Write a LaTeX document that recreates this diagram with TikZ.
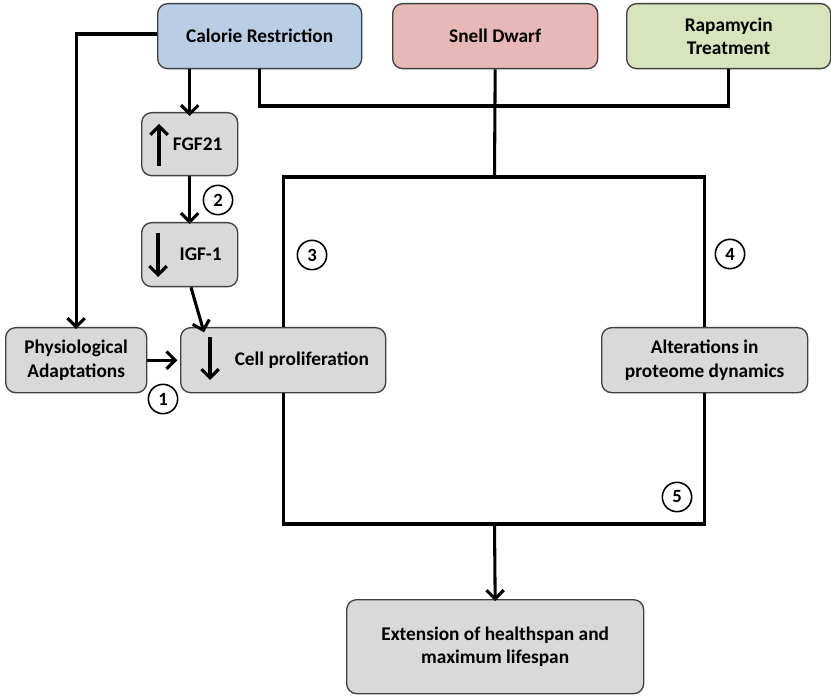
\documentclass[tikz,border=0pt]{standalone}
\usepackage{fontspec}
\setmainfont{Carlito}
\usetikzlibrary{arrows.meta}

\definecolor{crblue}{RGB}{185,205,229}
\definecolor{snellred}{RGB}{230,185,184}
\definecolor{rapagreen}{RGB}{215,228,189}
\definecolor{boxgray}{RGB}{217,217,217}
\definecolor{boxline}{RGB}{64,64,64}

\tikzset{
    box/.style={draw=boxline, line width=1pt, rounded corners=7.5pt, fill=boxgray,
        anchor=north west, inner sep=0pt, align=center,
        font=\fontsize{14.5}{17.5}\selectfont\bfseries},
    conn/.style={line width=2.3pt, black},
    tip/.style={conn, -{Straight Barb[length=6.5pt,width=13pt]}},
    num/.style={draw, circle, line width=1.2pt, minimum size=22pt, inner sep=0pt,
        font=\fontsize{14}{14}\selectfont\bfseries},
}

\begin{document}
\begin{tikzpicture}[x=0.75pt,y=0.75pt,yscale=-1,xscale=1]
    \useasboundingbox (0,0) rectangle (831,698);

    % Top row
    \node [box, fill=crblue, minimum width=153pt, minimum height=48.75pt] (calorie) at (157,3) {Calorie Restriction};
    \node [box, fill=snellred, minimum width=153.75pt, minimum height=48.75pt] (snell) at (392,3) {Snell Dwarf};
    \node [box, fill=rapagreen, minimum width=153pt, minimum height=48.75pt] (rapa) at (626,3) {Rapamycin\\Treatment};

    % FGF21 and IGF-1
    \node [box, minimum width=72pt, minimum height=47.25pt] (fgf) at (141,112) {\hspace{12pt}FGF21};
    \node [box, minimum width=72pt, minimum height=48pt] (igf) at (141,222) {\hspace{16.5pt}IGF-1};

    % Middle row
    \node [box, minimum width=105.75pt, minimum height=48.75pt] (phys) at (5,327) {Physiological\\Adaptations};
    \node [box, minimum width=153.75pt, minimum height=48.75pt] (cell) at (180,327) {\hspace{28pt}Cell proliferation};
    \node [box, minimum width=154.5pt, minimum height=48.75pt] (alter) at (601,327) {Alterations in\\proteome dynamics};

    % Bottom
    \node [box, minimum width=222.75pt, minimum height=70.5pt] (ext) at (346,599) {Extension of healthspan and\\maximum lifespan};

    % Junctions
    \coordinate (jmid) at (494.5,106);
    \coordinate (jtop) at (494.5,177);
    \coordinate (jbot) at (494.5,524);

    % Arrows inside boxes
    \draw [tip] (159,166) -- (159,124);
    \draw [tip] (158,233) -- (158,277);
    \draw [tip] (210,337) -- (210,380);

    % Connectors
    \draw [conn] (calorie.west |- 0,34) -| (phys.north |- 0,60);
    \draw [tip] (phys.north |- 0,34) -- ([yshift=1.5pt]phys.north);
    \draw [tip] (calorie.south -| fgf.north) -- ([yshift=3pt]fgf.north);
    \draw [tip] (fgf.south) -- ([yshift=1.5pt]igf.north);
    \draw [tip] ([xshift=1pt]igf.south) -- ([xshift=18pt,yshift=4pt]cell.north west);
    \draw [tip] (phys.east) -- ([xshift=-2pt]cell.west);
    \draw [conn] ([xshift=77pt]calorie.south west) |- (jmid) -| (rapa.south);
    \draw [conn] (snell.south) -- (jtop);
    \draw [conn] (cell.north) |- (jtop) -| (alter.north);
    \draw [conn] (cell.south) |- (jbot) -| (alter.south);
    \draw [tip] (jbot) -- ([yshift=1.5pt]ext.north);

    % Numbers
    \node [num] (n1) at (163,399) {1};
    \node [num] (n2) at (218,200) {2};
    \node [num] (n3) at (312,255) {3};
    \node [num] (n4) at (730,254) {4};
    \node [num] (n5) at (677,497) {5};
\end{tikzpicture}
\end{document}
